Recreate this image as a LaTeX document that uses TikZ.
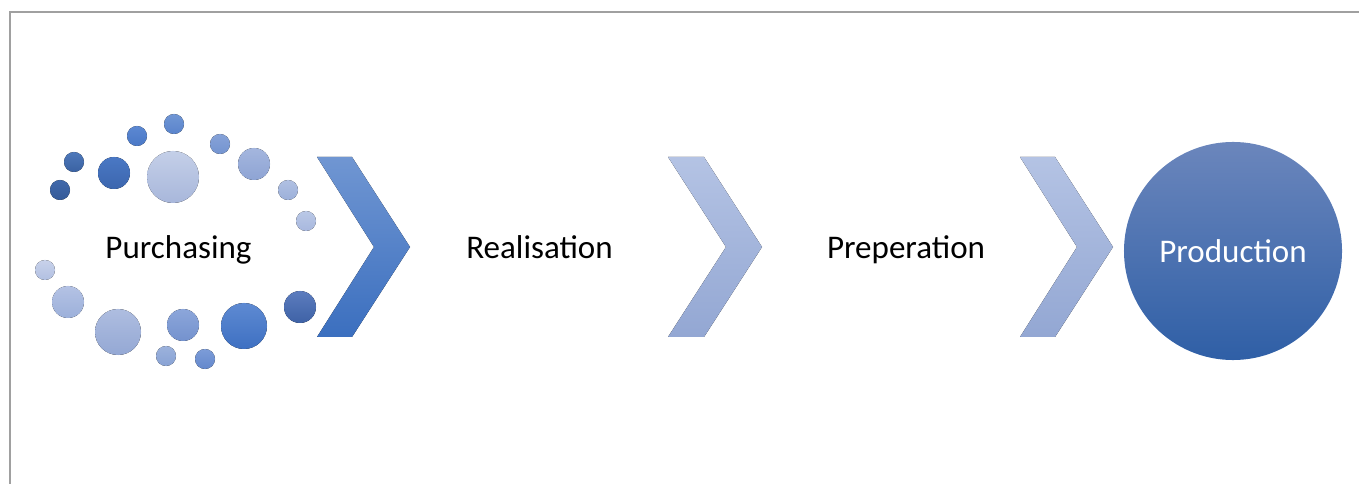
\documentclass[tikz,border=0pt]{standalone}
\usepackage{fontspec}
\setmainfont{Carlito}
\usetikzlibrary{positioning}

\definecolor{framegray}{HTML}{A0A0A0}
\definecolor{chevtop}{HTML}{7096D2}
\definecolor{chevbot}{HTML}{3B6FBF}
\definecolor{palettop}{HTML}{B4C3E4}
\definecolor{palebot}{HTML}{93A7D3}
\definecolor{prodtop}{HTML}{6B86BC}
\definecolor{prodbot}{HTML}{2F5FA6}

\begin{document}
\begin{tikzpicture}[x=0.025cm,y=-0.025cm,
    stagetext/.style={font=\fontsize{23.5}{28}\selectfont, inner sep=0pt, anchor=base}]

\useasboundingbox (0,0) rectangle (1359,484);

% Frame
\draw[framegray, line width=1.1pt] (10,484) -- (10,12) -- (1359,12);

% Dots round Purchasing
\foreach \x/\y/\r/\ct/\cb in {
    74/162/10/4E78BA/3A62A2,
    60/190/10/4068AA/345A98,
    114/173/16/4A78C4/3C66AE,
    137/136/10/5C88D2/4A78C6,
    174/124/10/7096D4/5A84CC,
    173/177/26/C4CFE8/A8B7DB,
    220/144/10/86A2D8/7494D0,
    254/164/16/A4B6DE/8EA4D4,
    288/190/10/B0C0E2/9CB0DA,
    306/221/10/BAC8E6/A8B8DE,
    45/270/10/C8D2EA/B2C0E2,
    68/302/16/B4C2E4/9CB0DA,
    118/332/23/AEBDE0/94A8D4,
    183/325/16/8CA6DA/7492CE,
    244/326/23/5E8AD2/3E70C2,
    300/307/16/5C7CBE/3E62A6,
    166/356/10/9CB2DC/88A2D4,
    205/359/10/7C9CD8/6488CC} {
  \definecolor{dottop}{HTML}{\ct}
  \definecolor{dotbot}{HTML}{\cb}
  \fill[top color=dottop, bottom color=dotbot] (\x,\y) circle (\r);
}

% Chevrons
\fill[top color=chevtop, bottom color=chevbot]
    (317,157) -- (352,157) -- (410,247) -- (352,337) -- (317,337) -- (374,247) -- cycle;
\fill[top color=palettop, bottom color=palebot]
    (668,157) -- (704,157) -- (762,247) -- (704,337) -- (668,337) -- (726,247) -- cycle;
\fill[top color=palettop, bottom color=palebot]
    (1020,157) -- (1055,157) -- (1113,247) -- (1055,337) -- (1020,337) -- (1077,247) -- cycle;

% Stage names
\node[stagetext] (purchasing) at (178.5,259) {Purchasing};
\node[stagetext] (realisation) at (539.5,259) {Realisation};
\node[stagetext] (preperation) at (906,259) {Preperation};

% End circle
\node[circle,
    minimum size=5.45cm,
    inner sep=0pt,
    top color=prodtop,
    bottom color=prodbot,
    text=white,
    font=\fontsize{23.5}{28}\selectfont] (production) at (1233,251) {Production};

\end{tikzpicture}
\end{document}
